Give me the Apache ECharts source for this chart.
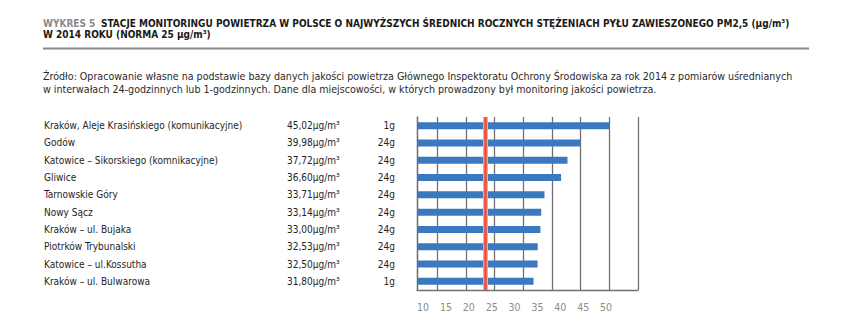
<!DOCTYPE html>
<html><head><meta charset="utf-8">
<script src="https://cdn.jsdelivr.net/npm/echarts@6/dist/echarts.min.js"></script>
<style>html,body{margin:0;padding:0;background:#fff}#c{width:859px;height:334px}</style>
</head><body><div id="c"></div>
<script>
const stations = [
  'Kraków, Aleje Krasińskiego (komunikacyjne)',
  'Godów',
  'Katowice – Sikorskiego (komnikacyjne)',
  'Gliwice',
  'Tarnowskie Góry',
  'Nowy Sącz',
  'Kraków – ul. Bujaka',
  'Piotrków Trybunalski',
  'Katowice – ul.Kossutha',
  'Kraków – ul. Bulwarowa'
];
const values = [45.02, 39.98, 37.72, 36.60, 33.71, 33.14, 33.00, 32.53, 32.50, 31.80];
const intervals = ['1g', '24g', '24g', '24g', '24g', '24g', '24g', '24g', '24g', '1g'];
const tickLabels = [10, 15, 20, 25, 30, 35, 40, 45, 50];
const norm = 25;
const unit = 'µg/m³';
const titleGray = 'WYKRES 5';
const titleLine1 = 'STACJE MONITORINGU POWIETRZA W POLSCE O NAJWYŻSZYCH ŚREDNICH ROCZNYCH STĘŻENIACH PYŁU ZAWIESZONEGO PM2,5 (µg/m³)';
const titleLine2 = 'W 2014 ROKU (NORMA 25 µg/m³)';
const sourceLine1 = 'Źródło: Opracowanie własne na podstawie bazy danych jakości powietrza Głównego Inspektoratu Ochrony Środowiska za rok 2014 z pomiarów uśrednianych';
const sourceLine2 = 'w interwałach 24-godzinnych lub 1-godzinnych. Dane dla miejscowości, w których prowadzony był monitoring jakości powietrza.';

const FONT = '"DejaVu Sans Condensed","Liberation Sans Narrow",sans-serif';
const fmt = v => v.toFixed(2).replace('.', ',') + unit;

const chart = echarts.init(document.getElementById('c'), null, {renderer: 'svg'});
chart.setOption({
  animation: false,
  backgroundColor: '#fff',
  textStyle: {fontFamily: FONT},
  title: [
    {
      left: 43, top: 18.5, padding: 0,
      text: '{g|' + titleGray + '} {b|' + titleLine1 + '}\n{b|' + titleLine2 + '}',
      textStyle: {
        fontFamily: FONT, lineHeight: 10.5,
        rich: {
          g: {color: '#8a8a8a', fontSize: 10, fontWeight: 'bold', fontFamily: FONT, lineHeight: 10.5},
          b: {color: '#1a1a1a', fontSize: 10, fontWeight: 'bold', fontFamily: FONT, lineHeight: 10.5}
        }
      }
    },
    {
      left: 43, top: 69, padding: 0,
      text: sourceLine1 + '\n' + sourceLine2,
      textStyle: {fontFamily: FONT, fontSize: 10.6, fontWeight: 'normal', color: '#2a2a2a', lineHeight: 13}
    }
  ],
  graphic: [
    {type: 'line', shape: {x1: 43, y1: 48.5, x2: 809, y2: 48.5}, style: {stroke: '#8a8a8a', lineWidth: 2}, silent: true}
  ],
  grid: {left: 417, right: 221, top: 117, bottom: 44, containLabel: false},
  xAxis: [
    {
      type: 'value', min: 11.5, max: 50, splitNumber: 7, position: 'bottom',
      axisLine: {show: true, lineStyle: {color: '#707070', width: 1.3}},
      axisTick: {show: false},
      axisLabel: {show: false},
      splitLine: {show: true, lineStyle: {color: '#707070', width: 1.3}}
    },
    {
      type: 'value', min: 10, max: 58.3, interval: 5, position: 'bottom',
      axisLine: {show: false}, axisTick: {show: false}, splitLine: {show: false},
      axisLabel: {
        show: true, customValues: tickLabels, align: 'left', margin: 11,
        color: '#8c8c8c', fontSize: 10.5, fontFamily: FONT,
        formatter: v => tickLabels.includes(v) ? String(v) : ''
      }
    }
  ],
  yAxis: {
    type: 'category', data: stations, inverse: true,
    axisLine: {show: true, lineStyle: {color: '#707070', width: 1.3}},
    axisTick: {show: false},
    splitLine: {show: false},
    axisLabel: {
      margin: 22, color: '#1e1e1e', fontSize: 10, fontFamily: FONT,
      formatter: (name, idx) => '{n|' + name + '}{v|' + fmt(values[idx]) + '}{g|' + intervals[idx] + '}',
      rich: {
        n: {width: 243, align: 'left', fontSize: 10, color: '#1e1e1e', fontFamily: FONT},
        v: {width: 88, align: 'left', fontSize: 10, color: '#1e1e1e', fontFamily: FONT},
        g: {width: 20, align: 'right', fontSize: 10, color: '#1e1e1e', fontFamily: FONT}
      }
    }
  },
  series: [
    {
      type: 'bar', xAxisIndex: 0, yAxisIndex: 0, data: values, barWidth: 7,
      itemStyle: {color: '#3a79bf'}, silent: true
    },
    {
      type: 'line', xAxisIndex: 1, yAxisIndex: 0, data: [], silent: true,
      markLine: {
        symbol: ['none', 'none'], silent: true, animation: false,
        label: {show: false},
        data: [
          {xAxis: norm, lineStyle: {color: '#f7a596', width: 5, type: 'solid'}},
          {xAxis: norm, lineStyle: {color: '#ec4f38', width: 2.5, type: 'solid'}}
        ]
      }
    }
  ]
});
</script>
</body></html>
